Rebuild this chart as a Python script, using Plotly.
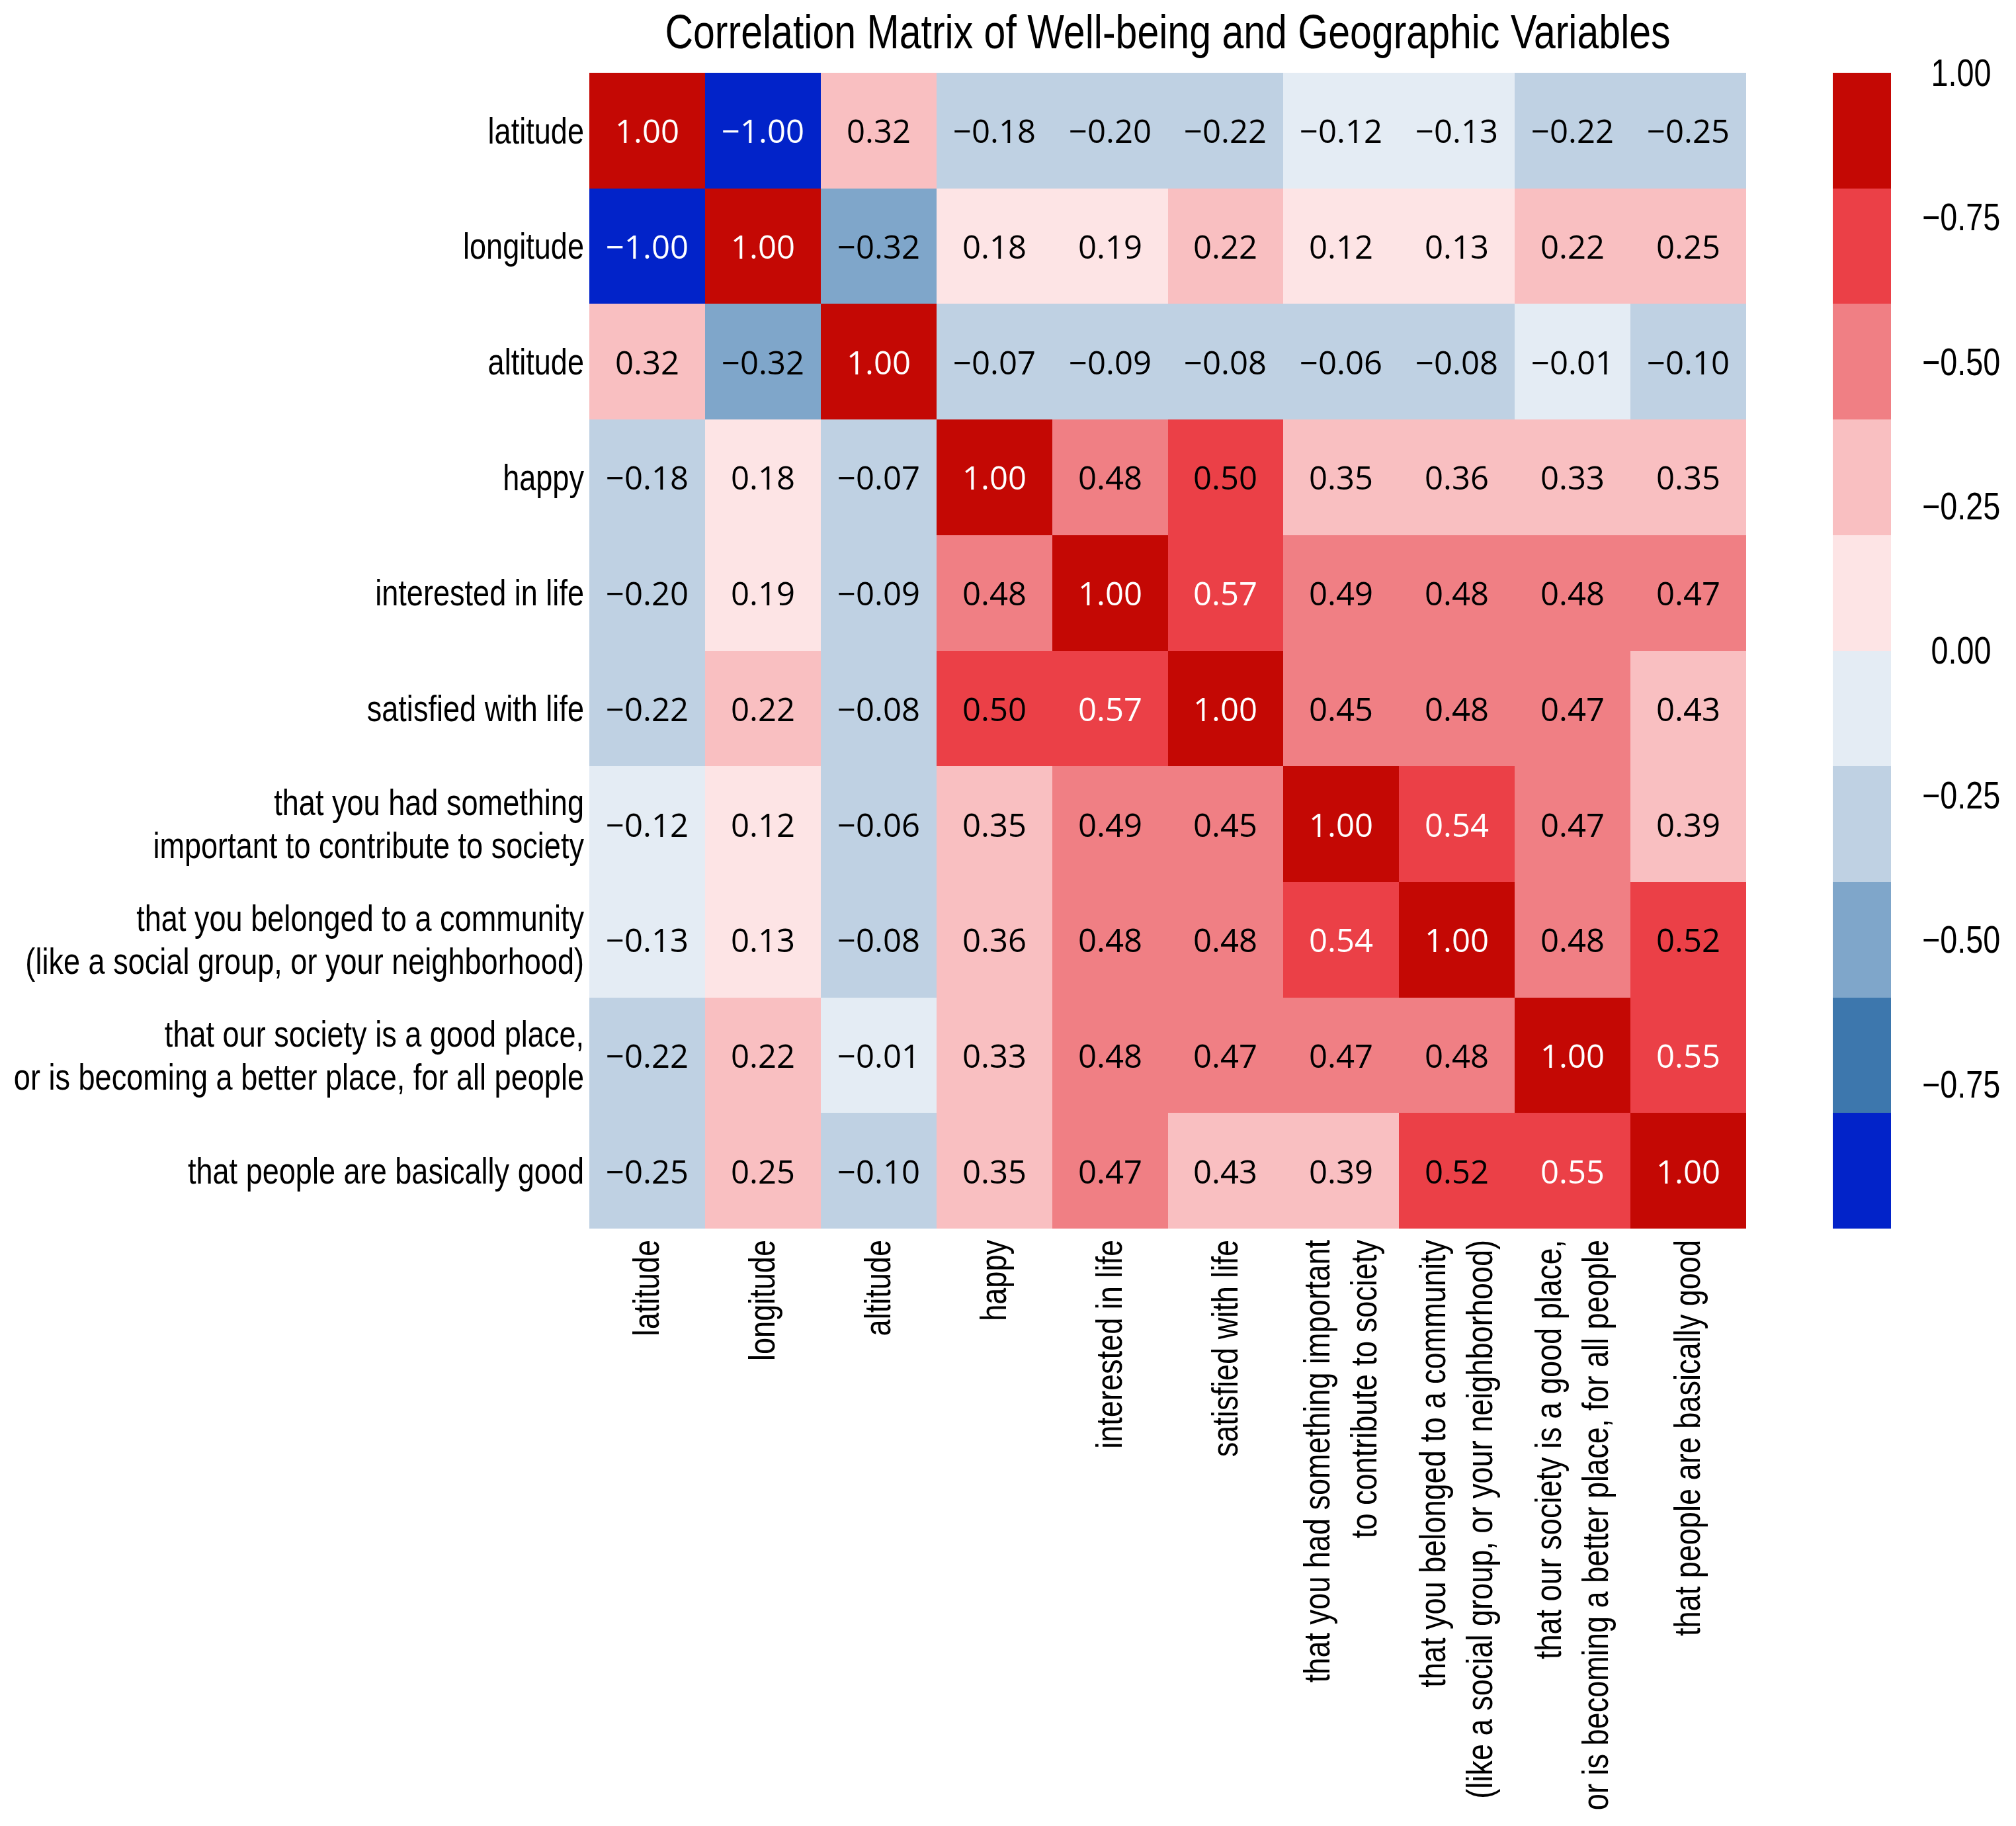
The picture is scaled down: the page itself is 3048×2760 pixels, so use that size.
import plotly.graph_objects as go

# variables, as they appear on the rows (y) and columns (x)
row_labels = [
    "latitude",
    "longitude",
    "altitude",
    "happy",
    "interested in life",
    "satisfied with life",
    "that you had something<br>important to contribute to society",
    "that you belonged to a community<br>(like a social group, or your neighborhood)",
    "that our society is a good place,<br>or is becoming a better place, for all people",
    "that people are basically good",
]
col_labels = [
    "latitude",
    "longitude",
    "altitude",
    "happy",
    "interested in life",
    "satisfied with life",
    "that you had something important<br>to contribute to society",
    "that you belonged to a community<br>(like a social group, or your neighborhood)",
    "that our society is a good place,<br>or is becoming a better place, for all people",
    "that people are basically good",
]

# printed correlation values
corr = [
    [1.00, -1.00, 0.32, -0.18, -0.20, -0.22, -0.12, -0.13, -0.22, -0.25],
    [-1.00, 1.00, -0.32, 0.18, 0.19, 0.22, 0.12, 0.13, 0.22, 0.25],
    [0.32, -0.32, 1.00, -0.07, -0.09, -0.08, -0.06, -0.08, -0.01, -0.10],
    [-0.18, 0.18, -0.07, 1.00, 0.48, 0.50, 0.35, 0.36, 0.33, 0.35],
    [-0.20, 0.19, -0.09, 0.48, 1.00, 0.57, 0.49, 0.48, 0.48, 0.47],
    [-0.22, 0.22, -0.08, 0.50, 0.57, 1.00, 0.45, 0.48, 0.47, 0.43],
    [-0.12, 0.12, -0.06, 0.35, 0.49, 0.45, 1.00, 0.54, 0.47, 0.39],
    [-0.13, 0.13, -0.08, 0.36, 0.48, 0.48, 0.54, 1.00, 0.48, 0.52],
    [-0.22, 0.22, -0.01, 0.33, 0.48, 0.47, 0.47, 0.48, 1.00, 0.55],
    [-0.25, 0.25, -0.10, 0.35, 0.47, 0.43, 0.39, 0.52, 0.55, 1.00],
]

# colour band of each cell as drawn (0 = darkest blue ... 9 = darkest red)
color_bins = [
    [9, 0, 6, 3, 3, 3, 4, 4, 3, 3],
    [0, 9, 2, 5, 5, 6, 5, 5, 6, 6],
    [6, 2, 9, 3, 3, 3, 3, 3, 4, 3],
    [3, 5, 3, 9, 7, 8, 6, 6, 6, 6],
    [3, 5, 3, 7, 9, 8, 7, 7, 7, 7],
    [3, 6, 3, 8, 8, 9, 7, 7, 7, 6],
    [4, 5, 3, 6, 7, 7, 9, 8, 7, 6],
    [4, 5, 3, 6, 7, 7, 8, 9, 7, 8],
    [3, 6, 4, 6, 7, 7, 7, 7, 9, 8],
    [3, 6, 3, 6, 7, 6, 6, 8, 8, 9],
]

band_colors = [
    "#0223c9", "#3d77ad", "#7fa6ca", "#bfd1e3", "#e4ecf4",
    "#fde4e5", "#f9bfc1", "#f07f84", "#eb4047", "#c40804",
]

cbar_tickvals = [1.0, 0.75, 0.5, 0.25, 0.0, -0.25, -0.5, -0.75]
cbar_ticktext = ["1.00", "\u22120.75", "\u22120.50", "\u22120.25", "0.00",
                 "\u22120.25", "\u22120.50", "\u22120.75"]

label_font = "Liberation Sans, Arial, sans-serif"
cell_font = "Open Sans, Noto Sans, sans-serif"

# stepped colour scale over -1..1
n = len(band_colors)
colorscale = []
for i, c in enumerate(band_colors):
    colorscale.append([i / n, c])
    colorscale.append([(i + 1) / n, c])

z = [[-1 + (b + 0.5) * 2 / n for b in row] for row in color_bins]

fig = go.Figure(
    go.Heatmap(
        z=z,
        x=col_labels,
        y=row_labels,
        zmin=-1,
        zmax=1,
        colorscale=colorscale,
        hoverinfo="skip",
        colorbar=dict(
            thickness=88,
            thicknessmode="pixels",
            len=1.0,
            lenmode="fraction",
            x=1.075,
            xanchor="left",
            y=0.5,
            yanchor="middle",
            xpad=0,
            ypad=0,
            outlinewidth=0,
            tickmode="array",
            tickvals=cbar_tickvals,
            ticktext=cbar_ticktext,
            ticks="outside",
            ticklen=36,
            tickcolor="rgba(0,0,0,0)",
            tickfont=dict(family=label_font, size=57, color="black"),
        ),
    )
)

# cell labels
for i, r in enumerate(row_labels):
    for j, c in enumerate(col_labels):
        v = corr[i][j]
        txt = f"{v:.2f}".replace("-", "\u2212")
        fig.add_annotation(
            x=c, y=r, text=txt, showarrow=False,
            font=dict(family=cell_font, size=49,
                      color="white" if abs(v) > 0.53 else "black"),
        )

fig.update_layout(
    width=3048,
    height=2760,
    margin=dict(l=883, r=416, t=102, b=911, autoexpand=False),
    paper_bgcolor="white",
    plot_bgcolor="white",
    title=dict(
        text="Correlation Matrix of Well-being and Geographic Variables",
        font=dict(family=label_font, size=72, color="black"),
        x=0.5,
        xref="paper",
        xanchor="center",
        y=1 - 40 / 2760,
        yref="container",
        yanchor="middle",
    ),
    xaxis=dict(
        tickangle=-90,
        tickfont=dict(family=label_font, size=55, color="black"),
        ticks="",
        ticklabelstandoff=5,
        showgrid=False,
        zeroline=False,
        showline=False,
        automargin=False,
    ),
    yaxis=dict(
        autorange="reversed",
        tickfont=dict(family=label_font, size=55, color="black"),
        ticks="",
        ticklabelstandoff=7,
        showgrid=False,
        zeroline=False,
        showline=False,
        automargin=False,
    ),
)

# the reference uses a narrow sans: squeeze label texts along their baseline,
# tighten the row label line spacing a bit and centre the colour bar labels
narrow_js = """
var gd = document.getElementById('{plot_id}');
var k = 0.82;
var cb = Array.prototype.slice.call(gd.querySelectorAll('.colorbar text'));
var maxW = 0;
cb.forEach(function (t) { maxW = Math.max(maxW, t.getComputedTextLength()); });
cb.forEach(function (t) {
    var x0 = parseFloat(t.getAttribute('x')) || 0;
    t.setAttribute('text-anchor', 'middle');
    t.setAttribute('x', x0 + k * maxW / 2);
});
gd.querySelectorAll('.ytick text').forEach(function (t) {
    var lines = t.querySelectorAll('tspan.line');
    if (lines.length < 2) { return; }
    var shift = 0;
    for (var i = 1; i < lines.length; i++) {
        var dy = lines[i].getAttribute('dy') || '';
        if (dy.slice(-2) === 'em') {
            var v = parseFloat(dy);
            var nv = v * 1.18 / 1.3;
            lines[i].setAttribute('dy', nv + 'em');
            shift = (v - nv) * 55 / 2;
        }
    }
    var tr = t.getAttribute('transform') || '';
    t.setAttribute('transform', tr + ' translate(0,' + shift + ')');
});
gd.querySelectorAll('.xtick text, .ytick text, .gtitle, .colorbar text').forEach(function (t) {
    var x = parseFloat(t.getAttribute('x')) || 0;
    var y = parseFloat(t.getAttribute('y')) || 0;
    var tr = t.getAttribute('transform') || '';
    t.setAttribute('transform', tr + ' translate(' + x + ',' + y + ') scale(' + k + ',1) translate(' + (-x) + ',' + (-y) + ')');
});
"""

fig.write_html("out.html", post_script=narrow_js)
